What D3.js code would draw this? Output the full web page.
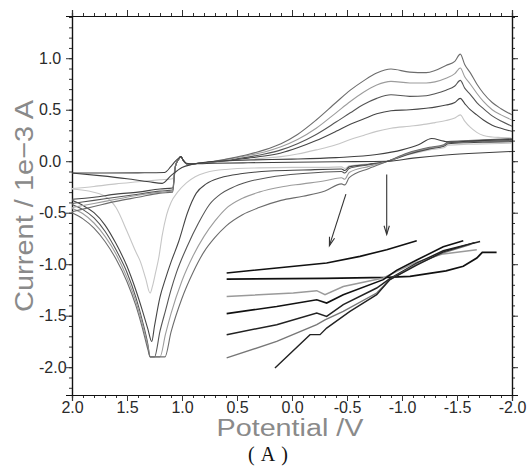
<!DOCTYPE html>
<html>
<head>
<meta charset="utf-8">
<script src="https://cdn.jsdelivr.net/npm/d3@7"></script>
<style>
  body { margin: 0; background: #fff; }
  svg { display: block; }
</style>
</head>
<body>
<svg id="chart" width="528" height="472"></svg>
<script>
// ---- tick labels ----
const xTicks = [2.0, 1.5, 1.0, 0.5, 0.0, -0.5, -1.0, -1.5, -2.0];
const yTicks = [1.0, 0.5, 0.0, -0.5, -1.0, -1.5, -2.0];

// ---- cathodic sweeps (+2.0 V -> -2.0 V), [potential V, current 1e-3 A] ----
const fwd0 = [[2.0,-0.27],[1.85,-0.29],[1.7,-0.34],[1.6,-0.45],[1.5,-0.68],[1.42,-0.88],[1.38,-0.97],[1.33,-1.14],[1.29,-1.28],[1.27,-1.22],[1.24,-1.08],[1.21,-0.93],[1.18,-0.72],[1.14,-0.52],[1.1,-0.4],[1.04,-0.3],[0.96,-0.21],[0.88,-0.15],[0.78,-0.11],[0.6,-0.08],[0.3,-0.065],[0.0,-0.06],[-0.3,-0.06],[-0.45,-0.055],[-0.48,-0.07],[-0.52,-0.045],[-0.7,-0.025],[-0.87,0.0],[-1.05,0.06],[-1.25,0.11],[-1.38,0.13],[-1.42,0.155],[-1.6,0.165],[-1.8,0.17],[-2.0,0.175]];
const fwd1 = [[2.0,-0.38],[1.9,-0.43],[1.8,-0.5],[1.7,-0.62],[1.6,-0.8],[1.5,-1.02],[1.42,-1.25],[1.36,-1.45],[1.31,-1.63],[1.275,-1.75],[1.25,-1.6],[1.2,-1.32],[1.15,-1.14],[1.1,-0.98],[1.03,-0.78],[0.95,-0.5],[0.87,-0.31],[0.78,-0.22],[0.65,-0.16],[0.45,-0.12],[0.2,-0.095],[-0.1,-0.085],[-0.45,-0.075],[-0.48,-0.09],[-0.52,-0.055],[-0.7,-0.03],[-0.87,0.0],[-1.05,0.065],[-1.25,0.12],[-1.38,0.145],[-1.42,0.17],[-1.6,0.18],[-1.8,0.185],[-2.0,0.19]];
const fwd2 = [[2.0,-0.42],[1.9,-0.47],[1.8,-0.55],[1.7,-0.68],[1.6,-0.86],[1.5,-1.08],[1.42,-1.32],[1.36,-1.55],[1.31,-1.78],[1.29,-1.9],[1.25,-1.9],[1.2,-1.65],[1.15,-1.45],[1.1,-1.25],[1.05,-1.08],[0.95,-0.82],[0.85,-0.6],[0.75,-0.42],[0.65,-0.32],[0.55,-0.26],[0.4,-0.2],[0.2,-0.155],[-0.1,-0.12],[-0.45,-0.1],[-0.48,-0.115],[-0.52,-0.07],[-0.7,-0.035],[-0.87,0.0],[-1.05,0.07],[-1.25,0.125],[-1.38,0.15],[-1.42,0.18],[-1.6,0.19],[-1.8,0.195],[-2.0,0.2]];
const fwd3 = [[2.0,-0.46],[1.9,-0.51],[1.8,-0.6],[1.7,-0.73],[1.6,-0.9],[1.5,-1.13],[1.42,-1.36],[1.36,-1.58],[1.31,-1.8],[1.29,-1.9],[1.2,-1.9],[1.15,-1.68],[1.1,-1.48],[1.0,-1.16],[0.9,-0.92],[0.8,-0.73],[0.7,-0.58],[0.6,-0.46],[0.45,-0.36],[0.3,-0.3],[0.1,-0.25],[-0.1,-0.22],[-0.3,-0.19],[-0.45,-0.16],[-0.48,-0.175],[-0.52,-0.11],[-0.7,-0.05],[-0.87,0.0],[-1.05,0.075],[-1.25,0.13],[-1.38,0.155],[-1.42,0.185],[-1.6,0.195],[-1.8,0.205],[-2.0,0.21]];
const fwd4 = [[2.0,-0.5],[1.9,-0.56],[1.8,-0.65],[1.7,-0.78],[1.6,-0.95],[1.5,-1.17],[1.42,-1.4],[1.36,-1.62],[1.31,-1.83],[1.29,-1.9],[1.155,-1.9],[1.1,-1.66],[1.0,-1.33],[0.9,-1.08],[0.8,-0.88],[0.7,-0.74],[0.6,-0.63],[0.45,-0.52],[0.3,-0.45],[0.1,-0.38],[-0.1,-0.34],[-0.3,-0.29],[-0.45,-0.22],[-0.48,-0.23],[-0.52,-0.16],[-0.7,-0.07],[-0.87,0.0],[-1.05,0.08],[-1.25,0.135],[-1.38,0.16],[-1.42,0.19],[-1.6,0.2],[-1.8,0.21],[-2.0,0.22]];

// ---- anodic sweeps (-2.0 V -> +2.0 V) ----
const rev0 = [[-2.0,0.225],[-1.9,0.23],[-1.82,0.235],[-1.74,0.25],[-1.68,0.28],[-1.62,0.33],[-1.57,0.39],[-1.53,0.45],[-1.48,0.42],[-1.4,0.395],[-1.3,0.375],[-1.22,0.36],[-1.07,0.34],[-0.9,0.32],[-0.77,0.29],[-0.65,0.25],[-0.53,0.21],[-0.4,0.16],[-0.22,0.11],[-0.05,0.07],[0.1,0.045],[0.25,0.03],[0.4,0.015],[0.55,0.005],[0.7,-0.01],[0.85,-0.02],[0.95,-0.025],[0.99,0.01],[1.01,0.045],[1.03,0.02],[1.06,-0.04],[1.085,-0.17],[1.2,-0.18],[1.4,-0.2],[1.6,-0.22],[1.8,-0.245],[2.0,-0.265]];
const rev1 = [[-2.0,0.29],[-1.9,0.32],[-1.82,0.35],[-1.74,0.4],[-1.68,0.45],[-1.62,0.5],[-1.57,0.56],[-1.53,0.61],[-1.48,0.57],[-1.4,0.545],[-1.3,0.525],[-1.22,0.515],[-1.07,0.5],[-0.9,0.49],[-0.77,0.46],[-0.65,0.41],[-0.53,0.36],[-0.4,0.29],[-0.22,0.2],[-0.05,0.13],[0.1,0.08],[0.25,0.05],[0.4,0.03],[0.55,0.01],[0.7,-0.005],[0.85,-0.02],[0.95,-0.028],[0.99,0.01],[1.01,0.045],[1.03,0.02],[1.06,-0.05],[1.085,-0.26],[1.2,-0.27],[1.4,-0.3],[1.6,-0.32],[1.8,-0.35],[2.0,-0.37]];
const rev2 = [[-2.0,0.34],[-1.9,0.39],[-1.82,0.44],[-1.74,0.51],[-1.68,0.57],[-1.62,0.65],[-1.57,0.71],[-1.53,0.785],[-1.48,0.73],[-1.4,0.69],[-1.3,0.655],[-1.22,0.635],[-1.07,0.63],[-0.9,0.645],[-0.77,0.61],[-0.65,0.55],[-0.53,0.47],[-0.4,0.38],[-0.22,0.26],[-0.05,0.17],[0.1,0.11],[0.25,0.07],[0.4,0.04],[0.55,0.015],[0.7,-0.005],[0.85,-0.02],[0.95,-0.03],[0.99,0.01],[1.01,0.045],[1.03,0.02],[1.06,-0.05],[1.085,-0.28],[1.2,-0.29],[1.4,-0.32],[1.6,-0.35],[1.8,-0.38],[2.0,-0.41]];
const rev3 = [[-2.0,0.40],[-1.9,0.45],[-1.82,0.5],[-1.74,0.58],[-1.68,0.66],[-1.62,0.75],[-1.57,0.82],[-1.53,0.905],[-1.48,0.85],[-1.4,0.805],[-1.3,0.77],[-1.22,0.76],[-1.07,0.76],[-0.9,0.775],[-0.77,0.74],[-0.65,0.67],[-0.53,0.58],[-0.4,0.47],[-0.22,0.32],[-0.05,0.21],[0.1,0.14],[0.25,0.09],[0.4,0.055],[0.55,0.025],[0.7,0.0],[0.85,-0.02],[0.95,-0.03],[0.99,0.01],[1.01,0.045],[1.03,0.02],[1.06,-0.05],[1.085,-0.29],[1.2,-0.3],[1.4,-0.33],[1.6,-0.37],[1.8,-0.41],[2.0,-0.45]];
const rev4 = [[-2.0,0.45],[-1.9,0.51],[-1.82,0.57],[-1.74,0.66],[-1.68,0.75],[-1.62,0.86],[-1.57,0.94],[-1.53,1.04],[-1.48,0.97],[-1.4,0.93],[-1.3,0.88],[-1.22,0.86],[-1.07,0.865],[-0.9,0.895],[-0.77,0.856],[-0.65,0.78],[-0.53,0.69],[-0.4,0.57],[-0.22,0.40],[-0.05,0.26],[0.1,0.17],[0.25,0.11],[0.4,0.065],[0.55,0.03],[0.7,0.0],[0.85,-0.02],[0.95,-0.03],[0.99,0.01],[1.01,0.045],[1.03,0.02],[1.06,-0.05],[1.085,-0.3],[1.2,-0.31],[1.4,-0.35],[1.6,-0.39],[1.8,-0.44],[2.0,-0.49]];

// ---- background scan ----
const baseFwd = [[2.0,-0.115],[1.7,-0.115],[1.4,-0.113],[1.16,-0.11],[1.1,-0.05],[1.06,0.0],[1.03,0.03],[1.01,0.045],[0.99,0.01],[0.96,-0.02],[0.9,-0.025],[0.7,-0.02],[0.4,-0.015],[0.0,-0.01],[-0.4,-0.005],[-0.87,0.0],[-1.1,0.03],[-1.4,0.06],[-1.7,0.08],[-2.0,0.095]];
const baseRev = [[-2.0,0.21],[-1.7,0.2],[-1.45,0.185],[-1.38,0.195],[-1.27,0.22],[-1.15,0.16],[-1.0,0.11],[-0.77,0.065],[-0.4,0.035],[0.0,0.02],[0.38,0.012],[0.7,0.0],[0.9,-0.03],[1.0,-0.06],[1.1,-0.14],[1.18,-0.215],[1.3,-0.2],[1.5,-0.17],[1.75,-0.14],[2.0,-0.115]];

// ---- enlarged traces drawn in the lower right ----
const insetA = [[0.594,-1.085],[0.139,-1.037],[-0.315,-0.988],[-0.618,-0.924],[-0.861,-0.859],[-1.134,-0.772]];
const insetB = [[0.594,-1.144],[-0.3,-1.137],[-0.861,-1.128],[-1.073,-1.118],[-1.25,-1.09],[-1.4,-1.065],[-1.557,-1.02],[-1.68,-0.94],[-1.73,-0.885],[-1.86,-0.885]];
const insetC = [[0.594,-1.313],[-0.012,-1.28],[-0.225,-1.257],[-0.3,-1.296],[-0.466,-1.216],[-0.83,-1.134],[-0.952,-1.07],[-1.134,-0.98],[-1.375,-0.9],[-1.68,-0.86]];
const insetD = [[0.594,-1.48],[0.139,-1.41],[-0.225,-1.345],[-0.315,-1.377],[-0.466,-1.296],[-0.83,-1.15],[-0.95,-1.06],[-1.134,-0.96],[-1.375,-0.83],[-1.557,-0.772]];
const insetE = [[0.594,-1.684],[0.139,-1.587],[-0.225,-1.474],[-0.315,-1.507],[-0.466,-1.393],[-0.77,-1.231],[-0.89,-1.14],[-1.134,-0.99],[-1.375,-0.87],[-1.71,-0.78]];
const insetF = [[0.594,-1.91],[0.139,-1.75],[-0.225,-1.587],[-0.3,-1.54],[-0.466,-1.458],[-0.77,-1.28],[-0.89,-1.15],[-1.134,-1.0],[-1.375,-0.89],[-1.62,-0.81]];
const insetG = [[0.155,-2.008],[-0.164,-1.684],[-0.255,-1.684],[-0.315,-1.62],[-0.527,-1.458],[-0.77,-1.296],[-0.89,-1.15],[-1.134,-1.01],[-1.375,-0.88],[-1.66,-0.79]];

// ---- pointer arrows [from V, from I, to V, to I] ----
const arrows = [[-0.49,-0.32,-0.34,-0.82],[-0.861,-0.13,-0.861,-0.71]];

// ---- layout ----
const svg = d3.select("#chart");
const plot = { left: 72, right: 512, top: 16, bottom: 395 };

const x = d3.scaleLinear().domain([2.0, -2.0]).range([plot.left, plot.right]);
const y = d3.scaleLinear().domain([-2.27, 1.41]).range([plot.bottom, plot.top]);

const fmt = d => d.toFixed(1);
const xMinor = d3.range(-20, 21).map(v => v / 10);
const yMinor = d3.range(-22, 15).map(v => v / 10);

// minor ticks
svg.append("g").attr("transform", `translate(0,${plot.bottom})`)
  .call(d3.axisBottom(x).tickValues(xMinor).tickSize(3).tickFormat(""));
svg.append("g").attr("transform", `translate(0,${plot.top})`)
  .call(d3.axisTop(x).tickValues(xMinor).tickSize(3).tickFormat(""));
svg.append("g").attr("transform", `translate(${plot.left},0)`)
  .call(d3.axisLeft(y).tickValues(yMinor).tickSize(3).tickFormat(""));
svg.append("g").attr("transform", `translate(${plot.right},0)`)
  .call(d3.axisRight(y).tickValues(yMinor).tickSize(3).tickFormat(""));

// major ticks
svg.append("g").attr("transform", `translate(0,${plot.bottom})`)
  .call(d3.axisBottom(x).tickValues(xTicks).tickSize(6).tickPadding(1).tickFormat(fmt));
svg.append("g").attr("transform", `translate(0,${plot.top})`)
  .call(d3.axisTop(x).tickValues(xTicks).tickSize(6).tickFormat(""));
const gy = svg.append("g").attr("transform", `translate(${plot.left},0)`)
  .call(d3.axisLeft(y).tickValues(yTicks).tickSize(6).tickFormat(fmt));
svg.append("g").attr("transform", `translate(${plot.right},0)`)
  .call(d3.axisRight(y).tickValues(yTicks).tickSize(6).tickFormat(""));

svg.selectAll(".domain").attr("stroke", "#111").attr("stroke-width", 1.2);
svg.selectAll(".tick line").attr("stroke", "#333");
svg.selectAll(".tick text")
  .attr("font-family", "'Liberation Sans', Arial, sans-serif")
  .attr("font-size", 16)
  .attr("fill", "#2a2a2a");
gy.selectAll(".tick text").attr("text-anchor", "start").attr("x", 39 - plot.left);

// ---- curves ----
const line = d3.line().x(d => x(d[0])).y(d => y(d[1])).curve(d3.curveMonotoneX);
const scans = [
  { f: fwd0, r: rev0, color: "#c6c6c6" },
  { f: fwd1, r: rev1, color: "#454545" },
  { f: fwd2, r: rev2, color: "#555555" },
  { f: fwd3, r: rev3, color: "#9c9c9c" },
  { f: fwd4, r: rev4, color: "#6c6c6c" }
];
const gc = svg.append("g").attr("fill", "none").attr("stroke-width", 1.1);
scans.forEach(s => {
  gc.append("path").attr("d", line(s.f)).attr("stroke", s.color);
  gc.append("path").attr("d", line(s.r)).attr("stroke", s.color);
});
gc.append("path").attr("d", line(baseFwd)).attr("stroke", "#404040");
gc.append("path").attr("d", line(baseRev)).attr("stroke", "#404040");

// ---- enlarged traces ----
const lin = d3.line().x(d => x(d[0])).y(d => y(d[1]));
const insetSet = [
  { d: insetA, c: "#111", w: 1.6 },
  { d: insetB, c: "#111", w: 1.8 },
  { d: insetC, c: "#9a9a9a", w: 1.5 },
  { d: insetD, c: "#111", w: 1.6 },
  { d: insetE, c: "#222", w: 1.5 },
  { d: insetF, c: "#777", w: 1.4 },
  { d: insetG, c: "#222", w: 1.4 }
];
const gi = svg.append("g").attr("fill", "none");
insetSet.forEach(s => gi.append("path").attr("d", lin(s.d)).attr("stroke", s.c).attr("stroke-width", s.w));

// ---- arrows ----
const ga = svg.append("g").attr("stroke", "#333").attr("stroke-width", 1.1).attr("fill", "none");
arrows.forEach(a => {
  const x1 = x(a[0]), y1 = y(a[1]), x2 = x(a[2]), y2 = y(a[3]);
  ga.append("line").attr("x1", x1).attr("y1", y1).attr("x2", x2).attr("y2", y2);
  const ang = Math.atan2(y2 - y1, x2 - x1), L = 9, spread = 0.3;
  const p = t => [x2 - L * Math.cos(ang + t), y2 - L * Math.sin(ang + t)];
  const [ax, ay] = p(spread), [bx, by] = p(-spread);
  ga.append("path").attr("d", `M${ax},${ay}L${x2},${y2}L${bx},${by}`);
});

// ---- titles ----
svg.append("text")
  .attr("x", 290).attr("y", 436)
  .attr("text-anchor", "middle")
  .attr("font-family", "'Liberation Sans', Arial, sans-serif")
  .attr("font-size", 23)
  .attr("fill", "#8a8a8a")
  .attr("textLength", 147).attr("lengthAdjust", "spacingAndGlyphs")
  .text("Potential /V");

svg.append("text")
  .attr("transform", "translate(33,206) rotate(-90)")
  .attr("text-anchor", "middle")
  .attr("font-family", "'Liberation Sans', Arial, sans-serif")
  .attr("font-size", 26)
  .attr("fill", "#8a8a8a")
  .attr("textLength", 212).attr("lengthAdjust", "spacingAndGlyphs")
  .text("Current / 1e\u22123 A");

svg.append("text")
  .attr("x", 268).attr("y", 461)
  .attr("text-anchor", "middle")
  .attr("font-family", "'Liberation Serif', 'Times New Roman', serif")
  .attr("font-size", 20)
  .attr("fill", "#111")
  .attr("textLength", 40).attr("lengthAdjust", "spacing")
  .text("(A)");
</script>
</body>
</html>
